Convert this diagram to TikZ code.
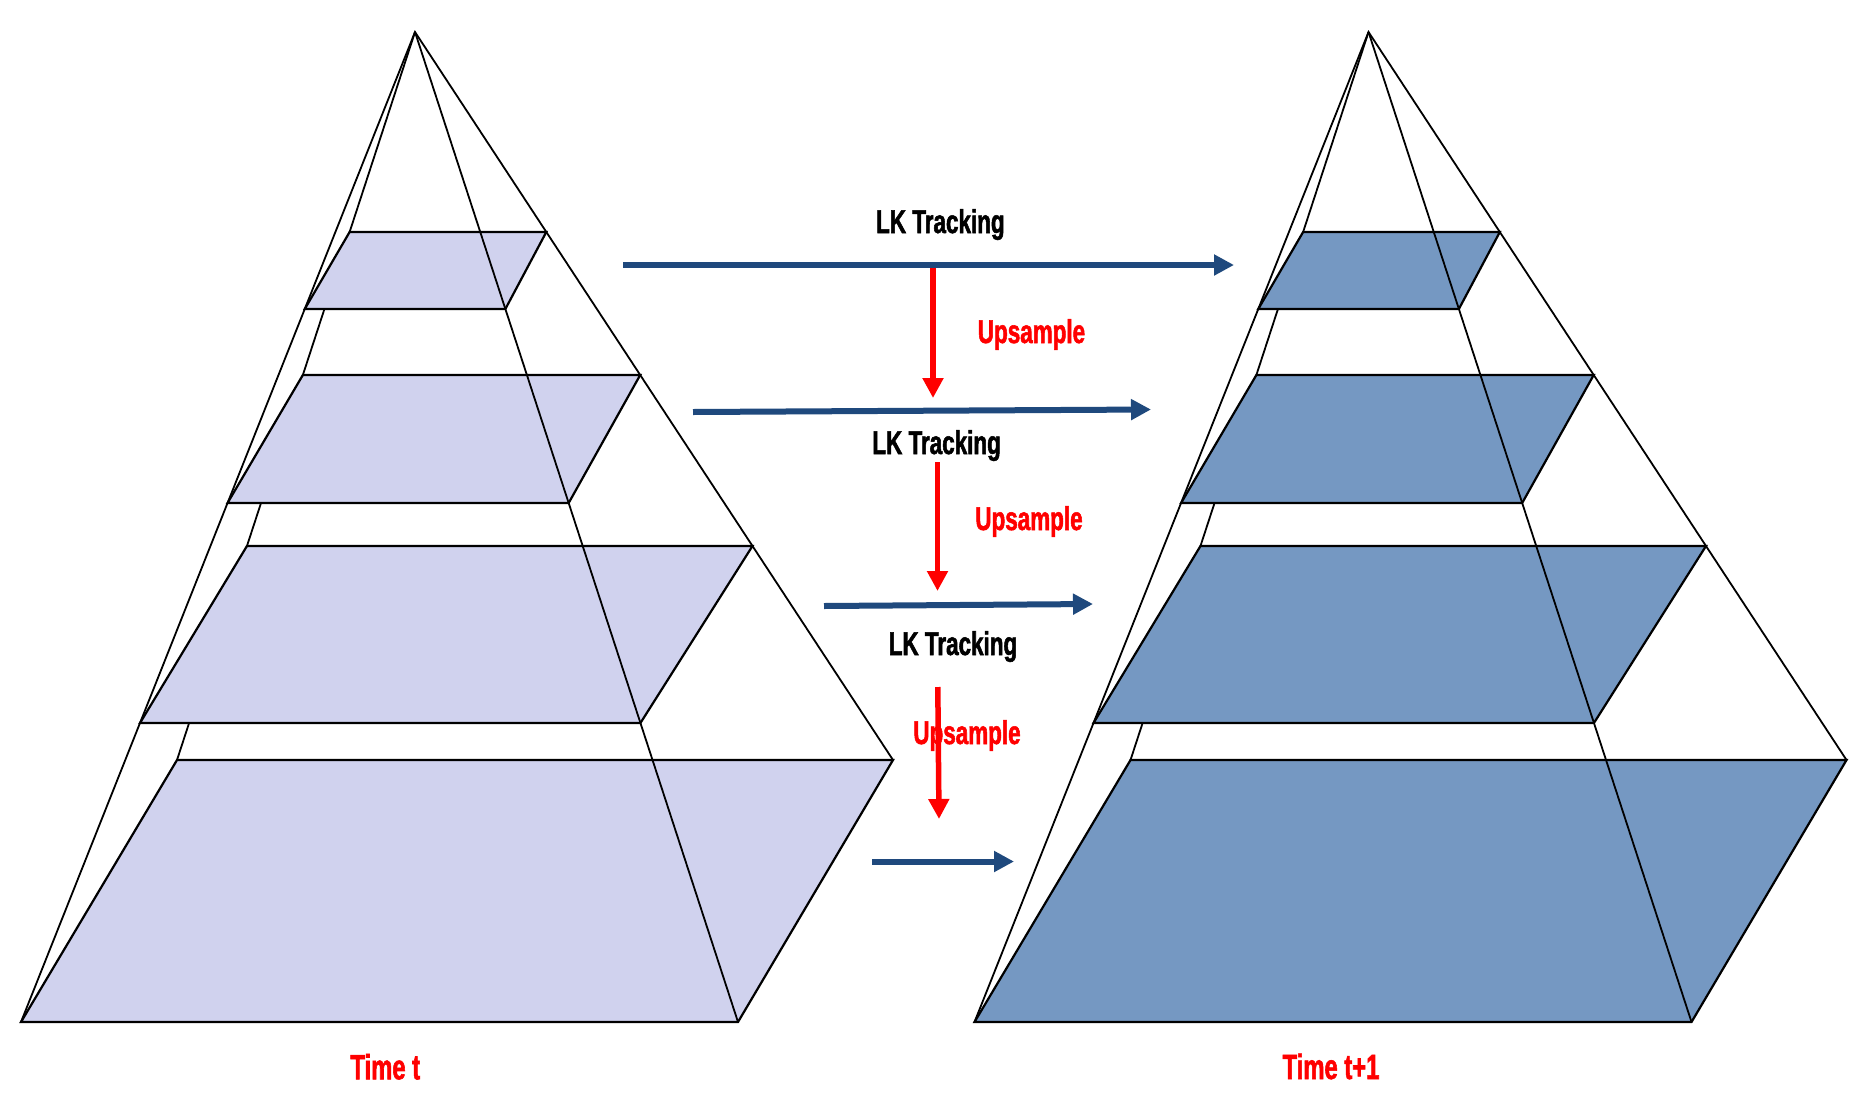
\documentclass[tikz,border=0pt]{standalone}
\usepackage{fontspec}
\setmainfont{Liberation Sans}
\newfontfamily\agency[FakeStretch=0.68,FakeBold=1.6]{Liberation Sans}
\usetikzlibrary{calc,arrows.meta}
\definecolor{lav}{RGB}{208,210,238}
\definecolor{steel}{RGB}{117,152,194}
\definecolor{navy}{RGB}{31,73,125}
\definecolor{redc}{RGB}{255,0,0}
\newcommand\drawpyr[2]{%
  \begin{scope}[shift={(#1,0)}]
    \coordinate (A) at (415,32);
    \coordinate (FL) at (21,1022);
    \coordinate (FR) at (738,1022);
    \coordinate (BR) at (893,760);
    \coordinate (BL) at (177,760);
    \draw[pedge] (A) -- (BL);
    \foreach \ta/\tb in {232/309,375/503,546/723,760/1022}{
      \pgfmathsetmacro\fa{(\ta-32)/728}
      \pgfmathsetmacro\fb{(\tb-32)/990}
      \filldraw[layerbox,fill=#2] ($(A)!\fa!(BL)$) -- ($(A)!\fa!(BR)$) -- ($(A)!\fb!(FR)$) -- ($(A)!\fb!(FL)$) -- cycle;
    }
    \draw[pedge] (FL) -- (A) -- (BR);
    \draw[pedge] (A) -- (FR);
  \end{scope}}
\begin{document}
\begin{tikzpicture}[x=1pt,y=-1pt,
  pedge/.style={draw=black,line width=1.8pt,line join=miter},
  layerbox/.style={draw=black,line width=2.2pt,line join=miter},
  track/.style={draw=navy,line width=6pt,-{Triangle[length=20pt,width=20pt]}},
  upar/.style={draw=redc,line width=5.5pt,-{Triangle[length=20pt,width=20pt]}},
  lk/.style={font={\agency\bfseries\fontsize{33}{36}\selectfont},anchor=base,inner sep=0pt,text=black},
  ups/.style={font={\agency\bfseries\fontsize{33}{36}\selectfont},anchor=base,inner sep=0pt,text=redc},
  tim/.style={font={\agency\bfseries\fontsize{35}{38}\selectfont},anchor=base,inner sep=0pt,text=redc}]
\useasboundingbox (0,0) rectangle (1867,1103);
\fill[white] (0,0) rectangle (1867,1103);
\drawpyr{0}{lav}
\drawpyr{953.5}{steel}
% tracking arrows
\coordinate (b1s) at (623,265);  \coordinate (b1e) at (1234,265);
\coordinate (b2s) at (693,412);  \coordinate (b2e) at (1151,409.5);
\coordinate (b3s) at (824,606);  \coordinate (b3e) at (1093,604);
\coordinate (b4s) at (872,861.5);\coordinate (b4e) at (1014,861.5);
\draw[track] (b1s) -- (b1e);
\draw[track] (b2s) -- (b2e);
\draw[track] (b3s) -- (b3e);
\draw[track] (b4s) -- (b4e);
% upsample arrows
\coordinate (r1s) at (933,268);   \coordinate (r1e) at (933,398);
\coordinate (r2s) at (937.5,462); \coordinate (r2e) at (937.5,591);
\coordinate (r3s) at (937.8,687); \coordinate (r3e) at (939,819);
% labels
\node[lk] (lk1) at (940.4,233) {LK Tracking};
\node[lk] (lk2) at (936.6,454) {LK Tracking};
\node[lk] (lk3) at (953,655) {LK Tracking};
\node[ups] (up1) at (1031.5,343) {Upsample};
\node[ups] (up2) at (1029,530) {Upsample};
\node[ups] (up3) at (967,744) {Upsample};
\draw[upar] (r1s) -- (r1e);
\draw[upar] (r2s) -- (r2e);
\draw[upar] (r3s) -- (r3e);
\node[tim] (t0) at (385.3,1079.3) {Time t};
\node[tim] (t1) at (1331,1079) {Time t+1};
\end{tikzpicture}
\end{document}
